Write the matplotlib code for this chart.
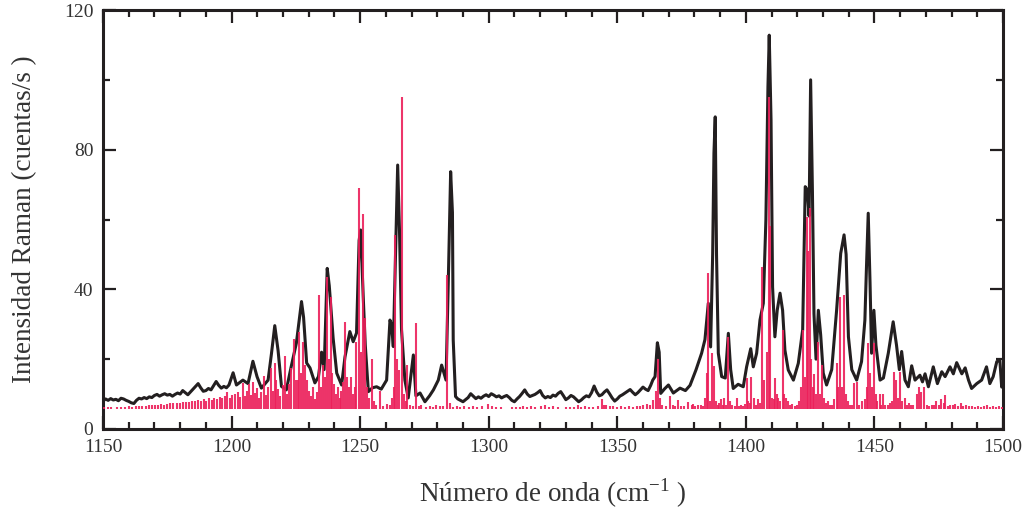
import numpy as np
import matplotlib
matplotlib.use("Agg")
import matplotlib.pyplot as plt
from matplotlib.ticker import MultipleLocator

## measured Raman spectrum (wavenumber, counts/s)
exp_x = [1150, 1151, 1152, 1153, 1154, 1155, 1156, 1157, 1158, 1159,
         1160, 1161, 1162, 1163, 1164, 1165, 1166, 1167, 1168, 1169,
         1170, 1171, 1172, 1173, 1174, 1175, 1176, 1177, 1178, 1179,
         1180, 1181, 1182, 1183, 1184, 1185, 1186, 1187, 1188, 1189,
         1190, 1191, 1192, 1193, 1194, 1195, 1196, 1197, 1198, 1199,
         1200, 1200.6, 1201.9, 1204.4, 1206.4, 1208.3, 1209.9, 1211.6,
         1214.2, 1215.5, 1216.8, 1218.1, 1219.4, 1221.3, 1223.2, 1225.2, 1227.2, 1228.0,
         1229.2, 1230.5, 1232.4, 1233.8, 1235.0, 1236.0, 1237.2, 1238.0, 1239.5, 1240.9,
         1242.8, 1244.1, 1246.0, 1247.3, 1248.6, 1249.6, 1250.2, 1251.2, 1252.0, 1253.2,
         1254.8, 1256.4, 1258.2, 1260.3, 1261.6, 1262.2, 1262.9, 1264.0, 1264.6, 1265.3,
         1266.1, 1267.4, 1268.7, 1270.7, 1271.7, 1273.3, 1275.2, 1277.0, 1278.5, 1280.4,
         1281.7, 1283.4, 1284.3, 1285.2, 1285.9, 1286.2, 1287.1,
         1288, 1289, 1290, 1291, 1292, 1293, 1294, 1295, 1296, 1297,
         1298, 1299, 1300, 1301, 1302, 1303, 1304, 1305, 1306, 1307,
         1308, 1309, 1310, 1311, 1312, 1313, 1314, 1315, 1316, 1317,
         1318, 1319, 1320, 1321, 1322, 1323, 1324, 1325, 1326, 1327,
         1328, 1329, 1330, 1331, 1332, 1333, 1334, 1335, 1336, 1337,
         1338, 1339, 1340, 1341, 1342, 1343, 1344, 1345, 1346, 1347,
         1348, 1349, 1350, 1351, 1352, 1353, 1354, 1355, 1356, 1357,
         1358, 1359, 1360, 1361, 1362, 1363,
         1363.8, 1364.7, 1365.6, 1366.3, 1366.9, 1368.4, 1369.9, 1371.8, 1374.4, 1376.5,
         1378.3, 1380.6, 1382.8, 1384.1, 1385.4, 1386.3, 1387.1, 1387.6, 1388.1, 1388.6,
         1389.3, 1390.6, 1392.0, 1393.2, 1394.1, 1395.1, 1397.0, 1399.0, 1400.3, 1401.9,
         1402.9, 1404.2, 1405.5, 1406.8, 1407.8, 1408.6, 1409.1, 1409.8, 1410.4, 1411.3,
         1412.2, 1413.3, 1414.3, 1415.2, 1416.5, 1418.5, 1420.4, 1422.1, 1423.1, 1423.9,
         1424.6, 1425.2, 1425.9, 1426.5, 1427.3, 1428.2, 1429.1, 1430.1, 1431.4, 1433.4,
         1435.3, 1436.9, 1438.2, 1439.0, 1439.9, 1441.2, 1443.1, 1445.0, 1446.3, 1446.9,
         1447.6, 1448.3, 1448.9, 1449.8, 1450.6, 1452.2, 1453.5, 1455.4, 1457.3, 1458.6,
         1459.7, 1460.6, 1461.9, 1463.2, 1464.5, 1465.8, 1467.7, 1468.7, 1469.7, 1471.0,
         1472.9, 1474.5, 1476.2, 1477.5, 1479.4, 1480.7, 1482.0, 1484.0, 1485.3, 1486.6,
         1487.8, 1489.8, 1491.7, 1493.6, 1494.9, 1496.2, 1497.6, 1498.8, 1499.5, 1500]
exp_y = [8.0, 8.6, 8.2, 8.7, 8.3, 8.5, 8.1, 8.8, 8.6, 8.2,
         7.9, 7.5, 7.3, 8.2, 8.8, 8.6, 9.0, 8.7, 9.2, 9.0,
         9.6, 9.9, 9.4, 9.8, 10.1, 9.7, 9.9, 9.4, 9.9, 10.3,
         10.0, 11.0, 10.4, 9.8, 10.6, 11.4, 12.2, 13.0, 11.8, 10.8,
         11.0, 11.6, 11.2, 12.4, 13.6, 12.5, 11.7, 12.2, 11.8, 12.6,
         14.8, 16.1, 12.6, 14.0, 13.0, 19.4, 15.0, 11.7,
         14.0, 21.5, 29.6, 22.4, 12.2, 11.2, 17.9, 24.6, 36.5, 32.0,
         18.9, 17.5, 13.2, 15.0, 22.0, 17.0, 46.0, 41.0, 26.0, 16.0,
         12.6, 20.6, 27.9, 25.0, 27.5, 54.0, 57.0, 37.9, 24.0, 10.7,
         11.8, 12.1, 11.4, 14.0, 31.2, 30.0, 23.6, 58.0, 75.6, 57.0,
         28.4, 14.0, 8.9, 21.2, 9.5, 10.3, 7.8, 9.5, 11.2, 14.0,
         18.3, 14.0, 42.7, 73.7, 62.0, 25.5, 9.3,
         8.6, 8.2, 7.8, 8.4, 9.0, 10.1, 9.4, 8.7, 9.2, 8.8,
         9.4, 9.8, 9.3, 10.1, 9.7, 9.2, 9.5, 8.9, 9.3, 9.6,
         9.0, 8.2, 7.8, 8.6, 9.3, 10.2, 11.2, 10.0, 9.3, 9.6,
         9.9, 10.4, 11.0, 9.6, 8.9, 9.3, 9.0, 9.7, 9.4, 10.2,
         10.7, 9.6, 8.4, 8.9, 9.6, 9.2, 8.5, 7.8, 8.3, 9.0,
         9.5, 9.2, 10.4, 12.3, 10.6, 9.5, 9.8, 10.6, 11.2, 10.1,
         8.9, 8.0, 8.6, 9.4, 9.8, 10.3, 10.8, 11.3, 10.5, 9.8,
         10.4, 11.2, 12.0, 11.4, 11.0, 12.5,
         14.0, 15.0, 24.7, 22.0, 10.2, 11.5, 12.6, 10.3, 11.7, 11.0,
         12.5, 16.9, 21.7, 25.6, 36.0, 23.5, 50.0, 79.0, 89.4, 50.0,
         21.7, 15.0, 14.6, 27.4, 17.0, 11.6, 12.8, 12.1, 17.8, 23.0,
         17.8, 21.7, 31.2, 36.0, 59.9, 98.0, 112.8, 88.5, 40.7, 26.4,
         34.0, 38.9, 34.0, 22.6, 16.9, 14.0, 18.8, 28.4, 69.4, 68.5,
         61.0, 100.0, 68.0, 33.0, 20.0, 34.0, 27.0, 16.0, 12.6, 17.0,
         34.0, 50.3, 55.6, 50.0, 26.4, 17.0, 14.0, 19.3, 31.2, 46.0,
         61.8, 42.0, 21.7, 34.0, 24.0, 14.0, 14.6, 21.7, 30.7, 24.0,
         17.0, 22.2, 14.0, 12.1, 18.1, 14.0, 15.4, 13.5, 15.8, 12.1,
         17.8, 13.0, 16.4, 15.0, 17.8, 15.8, 19.0, 15.8, 17.5, 14.0,
         11.6, 13.0, 14.0, 17.8, 13.0, 15.0, 19.3, 19.6, 12.0, 14.0]

## calculated stick spectrum (band position, intensity)
calc_x = [1150.5, 1151.8, 1153.2, 1155.5, 1157.0, 1158.4, 1160.0, 1161.4, 1162.8, 1164.0,
          1165.3, 1166.6, 1167.8, 1169.0, 1170.2, 1171.4, 1172.6, 1173.8, 1175.0, 1176.2,
          1177.4, 1178.6, 1179.8, 1181.0, 1182.2, 1183.4, 1184.6, 1185.8, 1187.0, 1188.2,
          1189.4, 1190.2, 1191.2, 1192.2, 1193.3, 1194.4, 1195.4, 1196.4, 1197.3, 1198.2,
          1199.2, 1200.2, 1201.2, 1202.5, 1203.4, 1204.4, 1205.3, 1206.0, 1206.8, 1207.5,
          1208.3, 1209.2, 1209.9, 1210.8, 1211.6, 1212.6, 1213.4, 1214.3, 1215.5, 1216.2,
          1216.8, 1217.4, 1218.2, 1219.0, 1220.0, 1220.8, 1221.6, 1222.4, 1223.2, 1224.1,
          1224.9, 1225.8, 1226.3, 1227.0, 1227.6, 1228.5, 1229.3, 1230.1, 1231.0, 1231.8,
          1232.6, 1233.4, 1234.1, 1234.8, 1235.6, 1236.3, 1237.0, 1237.7, 1238.5, 1239.2,
          1240.0, 1240.7, 1241.4, 1242.0, 1242.7, 1243.5, 1244.2, 1244.9, 1245.7, 1246.6,
          1247.4, 1248.0, 1248.5, 1249.4, 1250.2, 1251.1, 1251.9, 1252.6, 1253.3, 1254.5,
          1255.4, 1256.3, 1257.7, 1259.0, 1260.5, 1261.5, 1262.3, 1263.0, 1263.6, 1264.5,
          1265.3, 1266.4, 1267.1, 1267.8, 1268.4, 1269.3, 1270.4, 1271.7, 1272.7, 1273.8,
          1275.5, 1277.2, 1278.4, 1279.6, 1281.0, 1282.3, 1283.6, 1285.0, 1286.2, 1287.5,
          1289.0, 1290.5, 1292.3, 1294.0, 1295.5, 1297.4, 1299.9, 1301.2, 1303.0, 1304.8,
          1309.0, 1310.5, 1312.0, 1313.5, 1315.0, 1316.5, 1318.0, 1320.5, 1322.0, 1323.5,
          1325.0, 1327.0, 1330.0, 1331.5, 1333.0, 1334.7, 1336.0, 1337.5, 1339.0, 1340.5,
          1342.5, 1343.9, 1344.8, 1345.8, 1347.0, 1348.5, 1350.0, 1351.5, 1353.0, 1354.5,
          1356.0, 1357.5, 1359.0, 1360.2, 1361.4, 1362.6, 1364.0, 1365.0, 1365.7, 1366.5,
          1367.5, 1368.8, 1370.5, 1371.5, 1372.6, 1373.7, 1374.8, 1376.0, 1377.6, 1378.9,
          1379.5, 1380.3, 1381.5, 1382.5, 1383.3, 1384.2, 1384.8, 1385.4, 1386.0, 1386.7,
          1387.6, 1388.3, 1389.0, 1389.7, 1390.3, 1391.0, 1391.6, 1392.4, 1393.2, 1394.0,
          1394.8, 1395.6, 1396.5, 1397.4, 1398.2, 1399.0, 1399.8, 1400.3, 1401.0, 1401.6,
          1402.2, 1403.0, 1403.8, 1404.6, 1405.4, 1406.2, 1407.1, 1408.1, 1408.9, 1409.5,
          1410.3, 1410.8, 1411.3, 1412.0, 1412.7, 1413.4, 1414.3, 1415.0, 1415.7, 1416.5,
          1417.2, 1418.0, 1419.0, 1420.0, 1420.8, 1421.5, 1422.4, 1423.0, 1423.7, 1424.3,
          1424.9, 1425.5, 1426.0, 1426.6, 1427.3, 1428.2, 1428.9, 1429.8, 1430.5, 1431.3,
          1432.0, 1432.8, 1433.6, 1434.4, 1435.3, 1436.0, 1436.6, 1437.4, 1438.2, 1439.0,
          1439.7, 1440.5, 1441.3, 1442.1, 1443.4, 1444.2, 1445.0, 1446.3, 1447.0, 1447.6,
          1448.3, 1449.0, 1449.8, 1450.6, 1451.2, 1452.0, 1452.6, 1453.3, 1454.3, 1455.2,
          1456.1, 1456.9, 1457.6, 1458.3, 1459.1, 1459.9, 1460.7, 1461.9, 1462.7, 1463.5,
          1464.3, 1465.2, 1466.4, 1467.3, 1468.1, 1469.4, 1470.3, 1471.2, 1472.3, 1473.2,
          1474.1, 1475.0, 1476.0, 1477.0, 1477.5, 1478.6, 1479.5, 1480.5, 1481.5, 1482.6,
          1483.5, 1484.6, 1485.6, 1486.8, 1487.8, 1489.0, 1490.2, 1491.3, 1492.5, 1493.6,
          1494.8, 1496.0, 1497.2, 1498.4, 1499.5]
calc_y = [6.2, 6.3, 6.2, 6.3, 6.4, 6.3, 6.5, 6.4, 6.6, 6.5,
          6.7, 6.6, 6.8, 6.9, 6.8, 7.0, 7.1, 7.0, 7.2, 7.4,
          7.3, 7.5, 7.4, 7.6, 7.8, 7.6, 8.0, 7.9, 8.3, 8.1,
          8.6, 8.0, 8.8, 8.4, 9.0, 8.7, 9.3, 8.9, 9.5, 10.5,
          9.0, 9.6, 10.0, 10.5, 9.2, 13.2, 9.5, 10.8, 13.0, 9.8,
          13.6, 10.2, 11.7, 9.0, 10.5, 15.2, 9.8, 12.0, 17.6, 11.0,
          18.8, 13.9, 11.5, 9.5, 12.5, 21.0, 10.0, 13.0, 17.5, 25.9,
          14.0, 13.9, 27.7, 16.0, 25.0, 18.4, 14.0, 11.0, 9.5, 12.0,
          8.5, 10.5, 38.4, 12.0, 18.4, 15.0, 43.6, 20.0, 37.9, 16.0,
          13.0, 10.0, 12.0, 9.0, 11.0, 13.5, 30.7, 15.0, 12.0, 15.0,
          10.0, 12.0, 25.0, 68.9, 22.0, 61.6, 31.8, 12.0, 9.0, 20.0,
          8.0, 7.0, 11.0, 6.6, 7.2, 7.0, 9.0, 12.0, 55.6, 20.0,
          17.0, 95.2, 10.0, 8.0, 18.3, 7.0, 6.6, 30.3, 6.5, 7.0,
          6.4, 6.6, 6.3, 6.8, 6.5, 6.7, 44.1, 7.5, 6.4, 6.6,
          6.4, 6.5, 6.3, 6.6, 6.4, 6.5, 7.2, 6.5, 6.4, 6.3,
          6.3, 6.4, 6.3, 6.5, 6.4, 6.6, 6.4, 6.5, 6.8, 6.4,
          6.5, 6.3, 6.4, 6.3, 6.4, 6.8, 6.4, 6.5, 6.4, 6.4,
          6.6, 8.5, 7.0, 7.0, 6.5, 6.6, 6.4, 6.5, 6.4, 6.5,
          6.4, 6.5, 6.6, 6.8, 7.2, 6.8, 8.3, 11.0, 20.0, 9.0,
          6.8, 6.5, 9.4, 6.8, 6.6, 8.3, 6.5, 6.6, 7.6, 6.8,
          7.2, 6.6, 6.9, 7.0, 6.6, 9.0, 16.0, 44.6, 8.0, 21.7,
          18.0, 8.0, 6.8, 7.5, 8.5, 6.8, 8.9, 7.0, 26.4, 8.0,
          7.0, 6.5, 8.8, 6.6, 7.0, 6.6, 7.2, 14.5, 8.0, 7.5,
          15.0, 9.0, 7.0, 8.5, 7.5, 46.5, 14.0, 22.0, 95.2, 58.0,
          9.0, 8.5, 14.5, 10.0, 9.0, 8.0, 28.4, 10.0, 9.0, 8.0,
          7.0, 7.2, 6.6, 7.0, 8.0, 12.0, 28.4, 15.0, 60.8, 51.0,
          63.2, 20.0, 12.0, 15.8, 10.0, 25.0, 10.0, 18.3, 9.0, 7.5,
          8.0, 7.0, 6.8, 8.5, 18.8, 12.0, 37.9, 12.0, 38.4, 10.0,
          8.0, 7.0, 6.8, 13.1, 13.4, 7.0, 8.0, 8.5, 12.0, 24.5,
          16.0, 12.0, 24.5, 10.0, 8.0, 10.0, 7.0, 10.0, 7.0, 6.8,
          7.5, 8.0, 16.4, 14.0, 9.0, 16.4, 8.0, 9.0, 7.0, 7.5,
          6.8, 7.0, 10.0, 12.0, 10.5, 12.0, 7.0, 6.6, 6.8, 7.0,
          8.0, 6.8, 8.5, 7.5, 9.6, 6.6, 6.8, 6.8, 7.2, 6.7,
          7.5, 6.6, 6.8, 6.5, 6.6, 6.4, 6.6, 6.4, 6.5, 6.8,
          6.4, 6.5, 6.4, 6.5, 6.4]
calc_base = 5.7

x_ticks = [1150, 1200, 1250, 1300, 1350, 1400, 1450, 1500]
y_ticks = [0, 40, 80, 120]

ink = "#231f20"
stick_red = "#ec1f5a"
label_grey = "#333333"

plt.rcParams["font.family"] = ["Liberation Serif", "DejaVu Serif"]
plt.rcParams["mathtext.fontset"] = "custom"
plt.rcParams["mathtext.rm"] = "Liberation Serif"

fig = plt.figure(figsize=(10.29, 5.14), dpi=100)
ax = fig.add_axes([0.1001, 0.1654, 0.8746, 0.8151])

## experimental trace
ax.plot(exp_x, exp_y, color=ink, lw=2.2, zorder=2)

## calculated sticks, drawn over the trace
ax.vlines(calc_x, calc_base, calc_y, color=stick_red, lw=1.5, alpha=0.9, zorder=3)

ax.set_xlim(1150, 1500)
ax.set_ylim(0, 120)
ax.set_xticks(x_ticks)
ax.set_yticks(y_ticks)
ax.xaxis.set_minor_locator(MultipleLocator(10))
ax.yaxis.set_minor_locator(MultipleLocator(20))

for side in ax.spines.values():
    side.set_linewidth(2.2)
    side.set_color(ink)

ax.tick_params(which="both", direction="in", top=True, right=True,
               color=ink, labelcolor=label_grey, labelsize=14)
ax.tick_params(which="major", length=9.5, width=1.6, pad=7)
ax.tick_params(which="minor", length=5, width=1.6)

ax.set_xlabel("Número de onda (cm$^{\\mathregular{-1}}$ )", fontsize=19.5,
              color=label_grey, labelpad=15)
ax.set_ylabel("Intensidad Raman (cuentas/s )", fontsize=19.5,
              color=label_grey, labelpad=19)

fig.savefig("out.png", dpi=100)
